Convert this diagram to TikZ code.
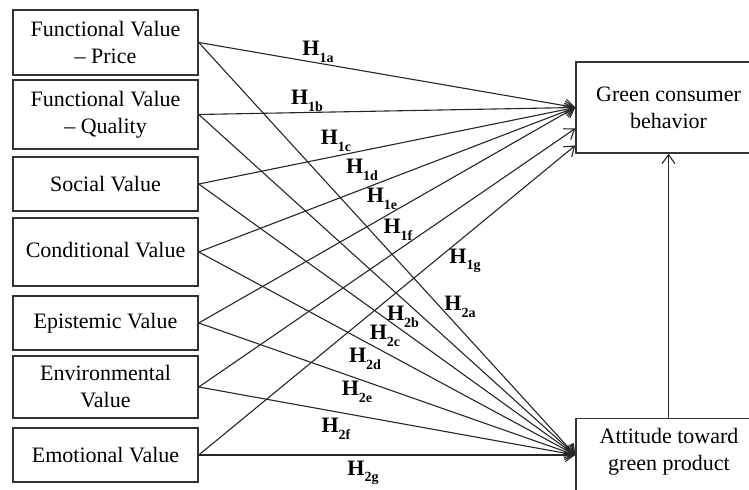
\documentclass[tikz,border=0pt]{standalone}
\usepackage{fontspec}
\setmainfont{Liberation Serif}
\usetikzlibrary{arrows.meta,calc}
\newcommand{\hyp}[1]{\textbf{H}\raisebox{-3.3pt}{\fontsize{7}{7}\selectfont\textbf{#1}}}
\begin{document}
\begin{tikzpicture}[x=0.5pt,y=-0.5pt,
  box/.style={draw=black!80, line width=0.75pt, minimum width=92.5pt, inner sep=0pt, align=center, font=\fontsize{11}{13.5}\selectfont},
  txt/.style={inner sep=0pt, align=center, font=\fontsize{11}{13.5}\selectfont},
  lab/.style={inner sep=0pt, font=\fontsize{11}{13}\selectfont},
  conn/.style={draw=black!85, line width=0.55pt, -{Straight Barb[length=4.5pt,width=6.5pt]}}]
\useasboundingbox (0,0) rectangle (749,490);
\clip (0,0) rectangle (749,490);
% left boxes
\node[box, minimum height=32.5pt] (b1) at (105.5,42.5) {Functional Value\\– Price};
\node[box, minimum height=34.5pt] (b2) at (105.5,114.5) {Functional Value\\– Quality};
\node[box, minimum height=27pt] (b3) at (105.5,184) {Social Value};
\node[box, minimum height=34pt] (b4) at (105.5,252) {\raisebox{2pt}{Conditional Value}};
\node[box, minimum height=27pt] (b5) at (105.5,323) {Epistemic Value};
\node[box, minimum height=31pt] (b6) at (105.5,387) {Environmental\\Value};
\node[box, minimum height=27pt] (b7) at (105.5,455) {Emotional Value};
% right boxes
\node[box, minimum height=45.5pt] (green) at (668.5,107.5) {Green consumer\\behavior};
\node[box, minimum height=50pt, anchor=north] (att) at (668.5,418) {};
\node[txt] (atttxt) at (669,452) {Attitude toward\\green product};
\coordinate (gf) at ($(green.west)+(0,21)$);
\coordinate (gg) at ($(green.west)+(0,38)$);
\coordinate (ain) at (att.west |- b7.east);
% connectors to green consumer behavior
\draw[conn] (b1.east) -- (green.west);
\draw[conn] (b2.east) -- (green.west);
\draw[conn] (b3.east) -- (green.west);
\draw[conn] (b4.east) -- (green.west);
\draw[conn] (b5.east) -- (green.west);
\draw[conn] (b6.east) -- (gf);
\draw[conn] (b7.east) -- (gg);
% connectors to attitude
\draw[conn] (b1.east) -- (ain);
\draw[conn] (b2.east) -- (ain);
\draw[conn] (b3.east) -- (ain);
\draw[conn] (b4.east) -- (ain);
\draw[conn] (b5.east) -- (ain);
\draw[conn] (b6.east) -- (ain);
\draw[conn] (b7.east) -- (ain);
% attitude to behavior
\draw[conn] (att.north) -- (green.south);
% labels
\node[lab] (h1a) at (318,52) {\hyp{1a}};
\node[lab] (h1b) at (307,101) {\hyp{1b}};
\node[lab] (h1c) at (336,141) {\hyp{1c}};
\node[lab] (h1d) at (362,170) {\hyp{1d}};
\node[lab] (h1e) at (382,199) {\hyp{1e}};
\node[lab] (h1f) at (398,230) {\hyp{1f}};
\node[lab] (h1g) at (465,261) {\hyp{1g}};
\node[lab] (h2a) at (460,307) {\hyp{2a}};
\node[lab] (h2b) at (403,317) {\hyp{2b}};
\node[lab] (h2c) at (385,336) {\hyp{2c}};
\node[lab] (h2d) at (365,359) {\hyp{2d}};
\node[lab] (h2e) at (357,392) {\hyp{2e}};
\node[lab] (h2f) at (336,429) {\hyp{2f}};
\node[lab] (h2g) at (363,473) {\hyp{2g}};
\end{tikzpicture}
\end{document}
